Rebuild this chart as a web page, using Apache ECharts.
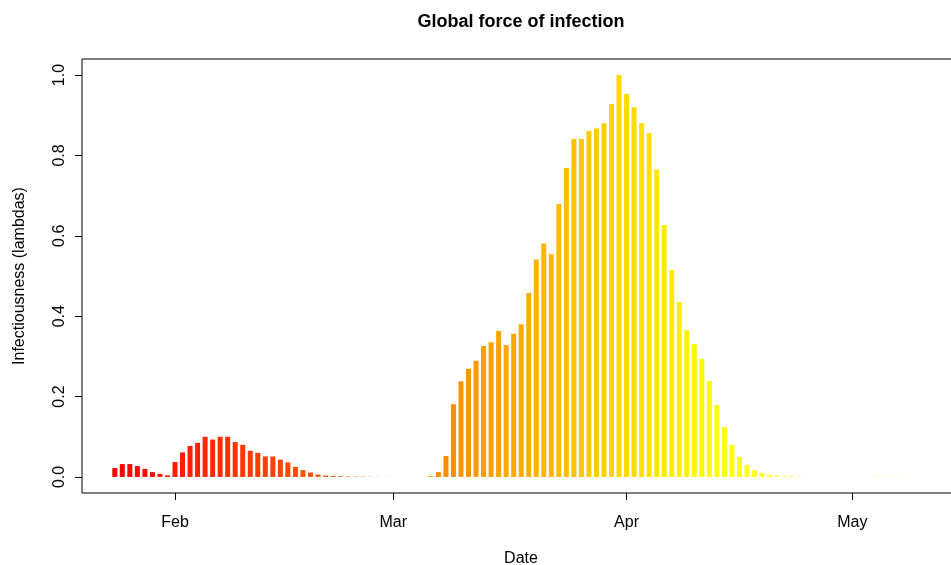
<!DOCTYPE html>
<html>
<head>
<meta charset="utf-8">
<script src="https://cdn.jsdelivr.net/npm/echarts@6/dist/echarts.min.js"></script>
<style>
  html, body { margin: 0; padding: 0; background: #fff; }
  #main { width: 951px; height: 565px; }
</style>
</head>
<body>
<div id="main"></div>
<script>
// day of year (Jan 1 = 0) of the first bar, Jan 24
var startDay = 23;
// daily lambdas, Jan 24 .. May 9
var lambdas = [
  0.022, 0.032, 0.032, 0.027, 0.020, 0.012, 0.0075, 0.004,           // Jan 24-31
  0.037, 0.061, 0.077, 0.085, 0.100, 0.093, 0.100, 0.100, 0.087, 0.080, // Feb 1-10
  0.065, 0.060, 0.051, 0.051, 0.043, 0.036, 0.025, 0.017, 0.011, 0.006, // Feb 11-20
  0.0035, 0.0025, 0.0017, 0.0012, 0.0009, 0.0006, 0.0004, 0.0003, 0.0002, // Feb 21-29
  0.0001, 0, 0, 0, 0, 0.002, 0.012, 0.052, 0.181, 0.238,               // Mar 1-10
  0.269, 0.289, 0.326, 0.335, 0.363, 0.328, 0.356, 0.380, 0.458, 0.541, // Mar 11-20
  0.581, 0.554, 0.679, 0.769, 0.841, 0.841, 0.861, 0.867, 0.880, 0.928, 1.000, // Mar 21-31
  0.953, 0.920, 0.880, 0.856, 0.765, 0.627, 0.515, 0.435, 0.365, 0.330, // Apr 1-10
  0.294, 0.239, 0.179, 0.124, 0.080, 0.050, 0.030, 0.017, 0.010, 0.006, // Apr 11-20
  0.004, 0.0025, 0.0017, 0.001, 0, 0, 0, 0, 0, 0,                      // Apr 21-30
  0, 0, 0, 0.003, 0.003, 0.003, 0.003, 0.003, 0.003                    // May 1-9
];
var monthDays = [31, 60, 91, 121];
var monthLabels = ['Feb', 'Mar', 'Apr', 'May'];
var yTicks = [0, 0.2, 0.4, 0.6, 0.8, 1.0];

// same palette as R heat.colors(n)
function heatColors(n) {
  var j = Math.floor(n / 4), i = n - j, out = [];
  for (var k = 0; k < i; k++) {
    var g = Math.round(255 * k / (i - 1));
    out.push('rgb(255,' + g + ',0)');
  }
  for (var m = 0; m < j; m++) {
    var s = j > 1 ? (1 - 1 / (2 * j)) - m * ((1 - 1 / j) / (j - 1)) : 0.5;
    out.push('rgb(255,255,' + Math.round(255 * (1 - s)) + ')');
  }
  return out;
}

var cols = heatColors(lambdas.length);
var barData = lambdas.map(function (v, idx) {
  return { value: [startDay + idx, v], itemStyle: { color: cols[idx] } };
});

var pxPerDay = 7.526;
var gridLeft = 82, gridWidth = 878;
var xMin = monthDays[0] - (175 - gridLeft) / pxPerDay;
var xMax = xMin + gridWidth / pxPerDay;

var font = 'Liberation Sans, Arial, sans-serif';
var chart = echarts.init(document.getElementById('main'));
chart.setOption({
  animation: false,
  backgroundColor: '#fff',
  title: {
    text: 'Global force of infection',
    left: 521, top: 13, textAlign: 'center', padding: 0,
    textStyle: { fontFamily: font, fontSize: 18, fontWeight: 'bold', color: '#000' }
  },
  grid: {
    left: gridLeft, top: 59, width: gridWidth, height: 434,
    outerBoundsMode: 'none', containLabel: false,
    show: true, borderColor: '#000', borderWidth: 1, backgroundColor: 'transparent'
  },
  xAxis: {
    type: 'value', min: xMin, max: xMax,
    name: 'Date', nameLocation: 'middle', nameGap: 58,
    nameTextStyle: { fontFamily: font, fontSize: 16, color: '#000' },
    axisLine: { show: false, onZero: false },
    splitLine: { show: false },
    axisTick: { show: true, inside: false, length: 7, customValues: monthDays, lineStyle: { color: '#000' } },
    axisLabel: {
      margin: 22, customValues: monthDays, fontFamily: font, fontSize: 16, color: '#000',
      formatter: function (v) { return monthLabels[monthDays.indexOf(Math.round(v))] || ''; }
    }
  },
  yAxis: {
    type: 'value', min: -0.04, max: 1.04,
    name: 'Infectiousness (lambdas)', nameLocation: 'middle', nameGap: 54,
    nameTextStyle: { fontFamily: font, fontSize: 16, color: '#000' },
    axisLine: { show: false, onZero: false },
    splitLine: { show: false },
    axisTick: { show: true, inside: false, length: 7, customValues: yTicks, lineStyle: { color: '#000' } },
    axisLabel: {
      margin: 14, rotate: 90, customValues: yTicks, fontFamily: font, fontSize: 16, color: '#000',
      formatter: function (v) { return v.toFixed(1); }
    }
  },
  series: [{
    type: 'bar',
    barWidth: 5,
    data: barData
  }]
});
</script>
</body>
</html>
